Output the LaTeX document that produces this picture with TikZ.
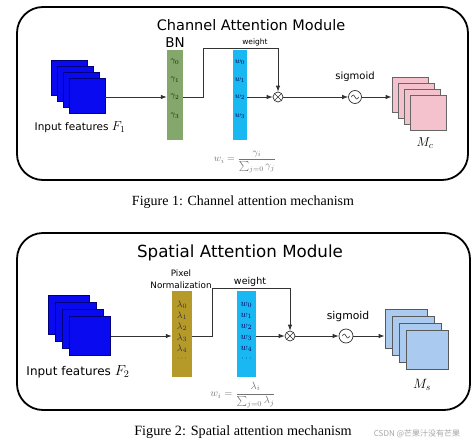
\RequirePackage{fix-cm}
\documentclass[tikz,border=0pt]{standalone}
\usepackage{fontspec}
\setmainfont{Liberation Serif}
\setsansfont{DejaVu Sans}
\newfontfamily\cjkfont{Noto Sans CJK SC}
\usetikzlibrary{arrows.meta}
\definecolor{sqblue}{HTML}{0A0AF0}
\definecolor{sqblueedge}{HTML}{00007A}
\definecolor{bngreen}{HTML}{84A86C}
\definecolor{wcyan}{HTML}{1AB8F2}
\definecolor{olive}{HTML}{B59A2A}
\definecolor{pinkfill}{HTML}{F4C2CC}
\definecolor{lbfill}{HTML}{AACBEF}
\definecolor{lnc}{HTML}{333333}
\newcommand{\fs}[1]{\fontsize{#1}{#1}\selectfont}
\begin{document}
\begin{tikzpicture}[x=1pt,y=-1pt,
  panel/.style={draw=black,line width=1.8pt,rounded corners=26pt,inner sep=0pt},
  sq/.style={draw,line width=0.8pt,inner sep=0pt},
  bar/.style={inner sep=0pt},
  conn/.style={draw=lnc,line width=0.8pt},
  arr/.style={conn,-{Latex[length=6pt,width=4.5pt]}},
  sans/.style={font=\sffamily\fs{#1},inner sep=0pt},
  lab/.style={inner sep=0pt,font=\fs{#1}},
  xcirc/.style={draw=lnc,circle,line width=0.7pt,minimum size=#1,inner sep=0pt,
    path picture={\draw[lnc,line width=0.6pt]
      (path picture bounding box.north west) -- (path picture bounding box.south east)
      (path picture bounding box.north east) -- (path picture bounding box.south west);}},
  sigc/.style={draw=lnc,circle,line width=0.7pt,minimum size=#1,inner sep=0pt,
    path picture={\draw[lnc,line width=0.6pt]
      ([xshift=-3.6pt]path picture bounding box.center) sin
      ([xshift=-1.8pt,yshift=2pt]path picture bounding box.center) cos
      (path picture bounding box.center) sin
      ([xshift=1.8pt,yshift=-2pt]path picture bounding box.center) cos
      ([xshift=3.6pt]path picture bounding box.center);}}
]
\useasboundingbox (0,0) rectangle (474,444);
\fill[white] (0,0) rectangle (474,444);

% ================= Top panel =================
\node[panel,minimum width=451pt,minimum height=173pt] (p1) at (242.5,93.5) {};
\node[sans=14.5] (t1) at (251,25) {Channel Attention Module};

\foreach \k in {0,...,3}
  \node[sq,fill=sqblue,draw=sqblueedge,minimum width=36pt,minimum height=35pt] (a\k) at (69+6*\k,78+6*\k) {};
\node[sans=10.5] (in1) at (80,127) {Input features {\fs{13}$F_1$}};

\node[bar,fill=bngreen,minimum width=16pt,minimum height=90pt] (bn) at (175,95) {};
\node[sans=13.5] (bnl) at (175,43) {BN};
\foreach \k/\yy in {0/62,1/80,2/97,3/116}
  \node[lab=8,text=black!75!green!60!black] (g\k) at (175,\yy) {$\gamma_{\k}$};

\node[bar,fill=wcyan,minimum width=14pt,minimum height=90pt] (wb) at (240,95) {};
\foreach \k/\yy in {0/62,1/80,2/97,3/116}
  \node[lab=8,text=black!70!blue] (w\k) at (240,\yy) {$w_{\k}$};

\node[xcirc=10pt] (cx) at (278,97) {};
\node[sigc=13pt] (sg) at (355,97) {};
\node[sans=10] (sgl) at (355,77) {sigmoid};
\node[sans=7.5] (wl) at (255,42) {weight};

\foreach \k in {0,...,3}
  \node[sq,fill=pinkfill,draw=black!60,minimum width=36pt,minimum height=35pt] (m\k) at (410+6*\k,95+6*\k) {};
\node[lab=13] (mc) at (425,143) {$M_c$};

\node[lab=10,text=black!55] (f1) at (245,162) {$\displaystyle w_i=\frac{\gamma_i}{\sum_{j=0}\gamma_j}$};

\coordinate (k1) at (203,48);
\draw[arr] (a3.east |- g2) -- (bn.west |- g2);
\draw[arr] (bn.east |- g2) -| (k1) -| (cx.north);
\draw[arr] (wb.east |- cx) -- (cx.west);
\draw[arr] (cx.east) -- (sg.west);
\draw[arr] (sg.east) -- (sg.east -| m0.west);

\node[lab=14] (cap1) at (243,202) {Figure 1: Channel attention mechanism};

% ================= Bottom panel =================
\node[panel,minimum width=453pt,minimum height=177pt] (p2) at (243.5,321.5) {};
\node[sans=16.7] (t2) at (240,253) {Spatial Attention Module};

\foreach \k in {0,...,3}
  \node[sq,fill=sqblue,draw=sqblueedge,minimum width=41pt,minimum height=39pt] (b\k) at (69+7*\k,314.5+7*\k) {};
\node[sans=12] (in2) at (78,372) {Input features {\fs{14.5}$F_2$}};

\node[bar,fill=olive,minimum width=20pt,minimum height=86pt] (ln) at (182,334) {};
\node[sans=8.8] (pxl) at (181,273) {Pixel};
\node[sans=8.8] (nrm) at (181,285) {Normalization};
\foreach \k/\yy in {0/305,1/316,2/327,3/338,4/349}
  \node[lab=9.5,text=black!80] (l\k) at (182,\yy) {$\lambda_{\k}$};
\node[lab=8,text=black!80] (l5) at (182,359) {$\cdots$};

\node[bar,fill=wcyan,minimum width=19pt,minimum height=86pt] (wb2) at (246.5,334) {};
\foreach \k/\yy in {0/305,1/316,2/327,3/338,4/349}
  \node[lab=9.5,text=black!60!blue] (v\k) at (246.5,\yy) {$w_{\k}$};
\node[lab=8,text=black!60!blue] (v5) at (246.5,359) {$\cdots$};

\node[xcirc=10pt] (cx2) at (290,336) {};
\node[sigc=14pt] (sg2) at (346,336) {};
\node[sans=10.8] (sgl2) at (348,317) {sigmoid};
\node[sans=9.5] (wl2) at (250,282) {weight};

\foreach \k in {0,...,3}
  \node[sq,fill=lbfill,draw=black!65,minimum width=42pt,minimum height=39pt] (c\k) at (406+7*\k,328.5+7*\k) {};
\node[lab=13.5] (ms) at (422,385) {$M_s$};

\node[lab=10.5,text=black!55] (f2) at (243,395) {$\displaystyle w_i=\frac{\lambda_i}{\sum_{j=0}\lambda_j}$};

\coordinate (k2) at (212,288);
\coordinate (y2) at (0,336);
\draw[arr] (b3.east |- y2) -- (ln.west |- y2);
\draw[arr] (ln.east |- y2) -| (k2) -| (cx2.north);
\draw[arr] (wb2.east |- cx2) -- (cx2.west);
\draw[arr] (cx2.east) -- (sg2.west);
\draw[arr] (sg2.east) -- (sg2.east -| c0.west);

\node[lab=14.2] (cap2) at (243,432) {Figure 2: Spatial attention mechanism};
\node[lab=8,text=black!35,font=\cjkfont\fs{8}] (wm) at (417,434) {CSDN @芒果汁没有芒果};
\end{tikzpicture}
\end{document}
